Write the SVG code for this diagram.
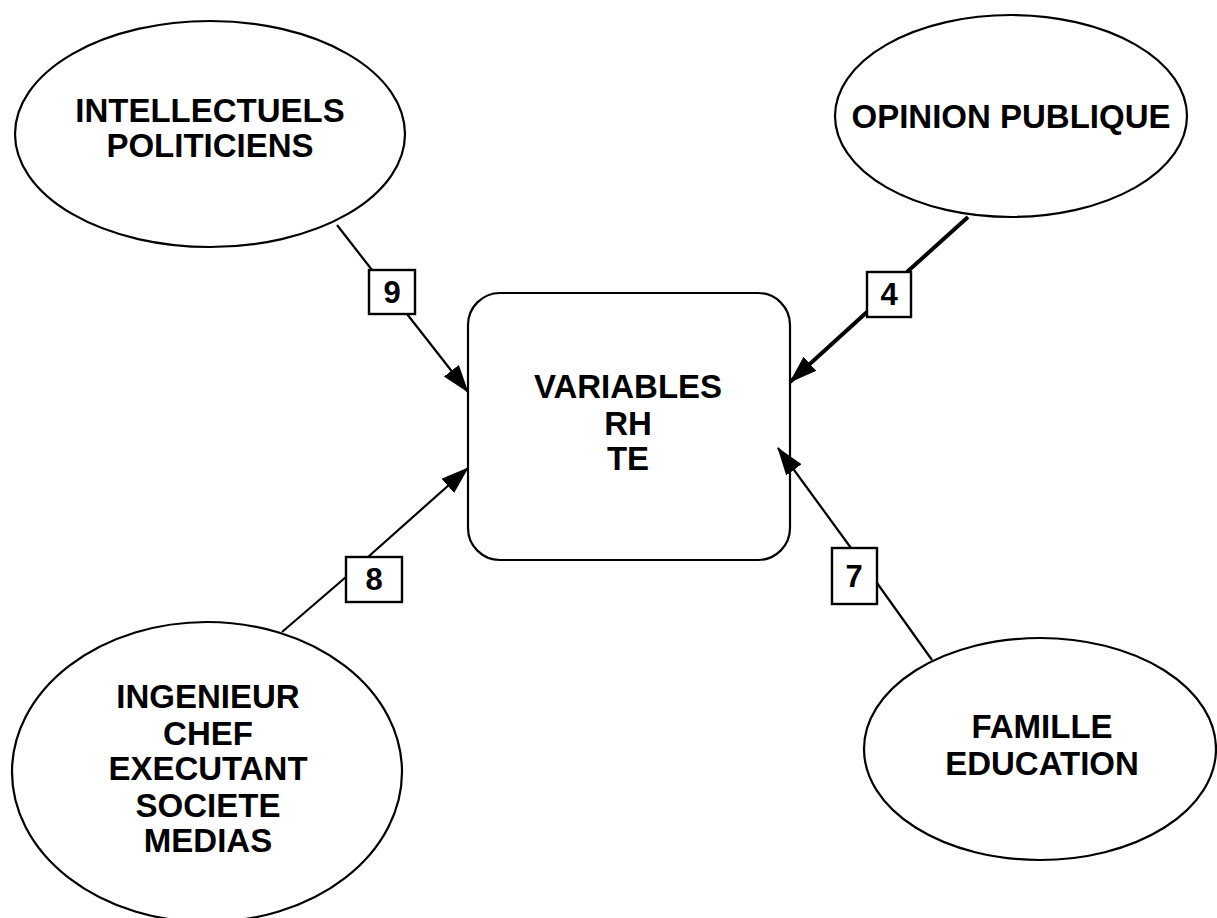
<svg xmlns="http://www.w3.org/2000/svg" width="1217" height="918" viewBox="0 0 1217 918">
  <style>
    .shape { fill: #ffffff; stroke: #000000; stroke-width: 2.2; }
    .label { font-family: "Liberation Sans", Arial, sans-serif; font-weight: bold; font-size: 33px; fill: #000000; text-anchor: middle; }
    .num { font-family: "Liberation Sans", Arial, sans-serif; font-weight: bold; font-size: 31px; fill: #000000; text-anchor: middle; }
    .link { stroke: #000000; stroke-width: 2.2; fill: none; }
    .link-strong { stroke: #000000; stroke-width: 4; fill: none; }
    .tag { fill: #ffffff; stroke: #000000; stroke-width: 2.4; }
  </style>
  <defs>
    <marker id="head" markerUnits="userSpaceOnUse" markerWidth="28" markerHeight="22" viewBox="0 0 28 22" refX="27" refY="11" orient="auto">
      <path d="M0,1.5 L28,11 L0,20.5 z" fill="#000000"/>
    </marker>
  </defs>

  <rect width="1217" height="918" fill="#ffffff"/>

  <g id="node-intellectuels">
    <ellipse class="shape" cx="210" cy="134" rx="195" ry="113"/>
    <text class="label" x="210" y="122">INTELLECTUELS</text>
    <text class="label" x="210" y="157">POLITICIENS</text>
  </g>

  <g id="node-opinion">
    <ellipse class="shape" cx="1011" cy="116" rx="176" ry="101"/>
    <text class="label" x="1011" y="128">OPINION PUBLIQUE</text>
  </g>

  <g id="node-variables">
    <rect class="shape" x="468" y="293" width="322" height="267" rx="32" ry="32"/>
    <text class="label" x="628" y="398">VARIABLES</text>
    <text class="label" x="628" y="435">RH</text>
    <text class="label" x="628" y="470">TE</text>
  </g>

  <g id="node-ingenieur">
    <ellipse class="shape" cx="207" cy="772" rx="195" ry="150"/>
    <text class="label" x="208" y="708">INGENIEUR</text>
    <text class="label" x="208" y="745">CHEF</text>
    <text class="label" x="208" y="780">EXECUTANT</text>
    <text class="label" x="208" y="817">SOCIETE</text>
    <text class="label" x="208" y="852">MEDIAS</text>
  </g>

  <g id="node-famille">
    <ellipse class="shape" cx="1040" cy="749" rx="176" ry="111"/>
    <text class="label" x="1042" y="738">FAMILLE</text>
    <text class="label" x="1042" y="775">EDUCATION</text>
  </g>

  <!-- connectors with their weight tags, drawn over the nodes -->
  <g id="connectors">
    <line class="link" x1="337" y1="225" x2="372" y2="270"/>
    <line class="link" x1="407" y1="314" x2="468" y2="392" marker-end="url(#head)"/>
    <rect class="tag" x="369" y="270" width="46" height="44"/>
    <text class="num" x="392" y="303">9</text>

    <line class="link-strong" x1="968" y1="217" x2="907" y2="272"/>
    <line class="link-strong" x1="867" y1="312" x2="790" y2="382" marker-end="url(#head)"/>
    <rect class="tag" x="867" y="272" width="44" height="45"/>
    <text class="num" x="889" y="305">4</text>

    <line class="link" x1="282" y1="632" x2="346" y2="577"/>
    <line class="link" x1="368" y1="557" x2="468" y2="468" marker-end="url(#head)"/>
    <rect class="tag" x="346" y="557" width="56" height="45"/>
    <text class="num" x="374" y="590">8</text>

    <line class="link" x1="932" y1="660" x2="877" y2="583"/>
    <line class="link" x1="851" y1="548" x2="778" y2="448" marker-end="url(#head)"/>
    <rect class="tag" x="832" y="548" width="45" height="56"/>
    <text class="num" x="854" y="587">7</text>
  </g>
</svg>
